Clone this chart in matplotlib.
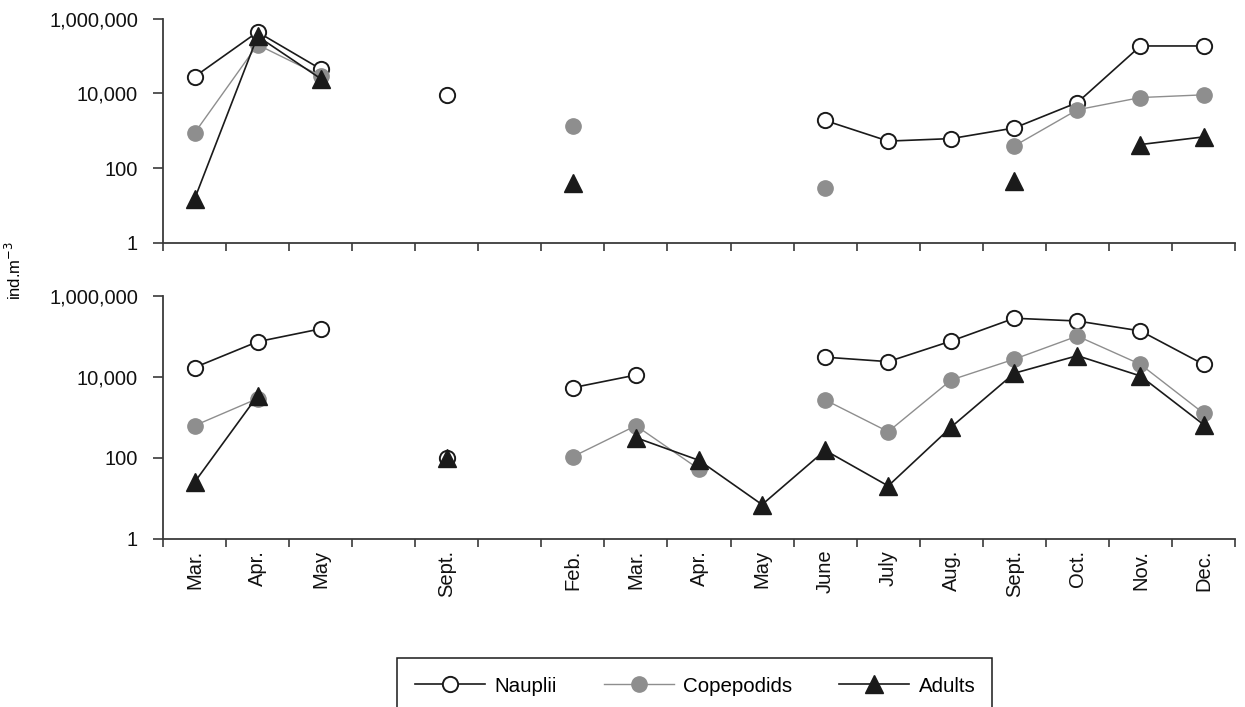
import numpy as np
import matplotlib.pyplot as plt
from matplotlib.patches import Rectangle
from matplotlib.lines import Line2D
from matplotlib.ticker import FixedLocator, NullFormatter, FuncFormatter

plt.rcParams['font.family'] = ['Liberation Sans', 'DejaVu Sans']

nan = np.nan
months = ['Mar.', 'Apr.', 'May', '', 'Sept.', '', 'Feb.', 'Mar.', 'Apr.', 'May',
          'June', 'July', 'Aug.', 'Sept.', 'Oct.', 'Nov.', 'Dec.']

# upper panel
nauplii_top = [27700, 437000, 44700, nan, 9100, nan, nan, nan, nan, nan,
               1870, 525, 613, 1180, 5650, 185000, 185000]
copepodids_top = [860, 200000, 29500, nan, nan, nan, 1370, nan, nan, nan,
                  30, nan, nan, 390, 3620, 7700, 9100]
adults_top = [14.6, 337000, 24700, nan, nan, nan, 39, nan, nan, nan,
              nan, nan, nan, 46, nan, 425, 680]

# lower panel
nauplii_bot = [17000, 74000, 154000, nan, 100, nan, 5400, 11100, nan, nan,
               30700, 23800, 77000, 282000, 241000, 137000, 20400]
copepodids_bot = [620, 2900, nan, nan, nan, nan, 106, 620, 52, nan,
                  2690, 440, 8400, 27400, 102000, 20400, 1260]
adults_bot = [24.6, 3400, nan, nan, 97, nan, nan, 313, 86, 6.9,
              152, 20, 575, 12300, 33400, 10500, 660]

x = np.arange(len(months))
black = '#1a1a1a'
grey = '#8e8e8e'
axis_col = '#3a3a3a'

naup_style = dict(color=black, lw=1.2, marker='o', ms=11, mfc='white',
                  mec=black, mew=1.4)
cope_style = dict(color=grey, lw=1.0, marker='o', ms=11, mfc=grey, mec=grey)
adult_style = dict(color=black, lw=1.2, marker='^', ms=13, mfc=black, mec=black)

fig = plt.figure(figsize=(12.45, 7.07), dpi=100)
ax1 = fig.add_axes([0.1309, 0.6567, 0.8611, 0.3170])
ax2 = fig.add_axes([0.1309, 0.2383, 0.8611, 0.3430])

for ax, n, c, a in [(ax1, nauplii_top, copepodids_top, adults_top),
                    (ax2, nauplii_bot, copepodids_bot, adults_bot)]:
    ax.plot(x, n, zorder=3, **naup_style)
    ax.plot(x, c, zorder=4, **cope_style)
    ax.plot(x, a, zorder=5, **adult_style)
    ax.set_yscale('log')
    ax.set_ylim(1, 1e6)
    ax.set_xlim(-0.5, len(months) - 0.5)
    ax.yaxis.set_major_locator(FixedLocator([1, 100, 1e4, 1e6]))
    ax.yaxis.set_minor_locator(FixedLocator([]))
    ax.yaxis.set_major_formatter(FuncFormatter(lambda v, p: f'{v:,.0f}'))
    ax.xaxis.set_major_locator(FixedLocator(np.arange(-0.5, len(months), 1)))
    ax.xaxis.set_major_formatter(NullFormatter())
    ax.xaxis.set_minor_locator(FixedLocator(x))
    ax.tick_params(axis='both', which='major', direction='out', length=6,
                   width=1.2, color=axis_col, labelsize=14.5, pad=4,
                   labelcolor='#111111')
    ax.tick_params(axis='y', which='major', length=7, pad=11)
    ax.tick_params(axis='x', which='minor', length=0)
    for s in ['top', 'right']:
        ax.spines[s].set_visible(False)
    for s in ['left', 'bottom']:
        ax.spines[s].set_linewidth(1.3)
        ax.spines[s].set_color(axis_col)

ax1.xaxis.set_minor_formatter(NullFormatter())
ax2.set_xticks(x, months, minor=True)
ax2.tick_params(axis='x', which='minor', labelsize=14.5, labelrotation=90,
                pad=8, labelcolor='#111111')

fig.text(0.011, 0.618, 'ind.m$^{-3}$', rotation=90, fontsize=12,
         ha='center', va='center')

# legend with a wide frame
handles = [Line2D([], [], **naup_style), Line2D([], [], **cope_style),
           Line2D([], [], **adult_style)]
fig.legend(handles, ['Nauplii', 'Copepodids', 'Adults'], ncol=3,
           loc='center left', bbox_to_anchor=(415 / 1245, 1 - 686 / 707),
           frameon=False, fontsize=14.8, handlelength=3.4, handletextpad=0.45,
           columnspacing=2.3, borderpad=0, borderaxespad=0)
fig.patches.append(Rectangle((397 / 1245, -0.05), 595 / 1245, 0.05 + 1 - 658 / 707,
                             transform=fig.transFigure, fill=False,
                             edgecolor=black, lw=1.1))

fig.savefig('out.png', dpi=100)
